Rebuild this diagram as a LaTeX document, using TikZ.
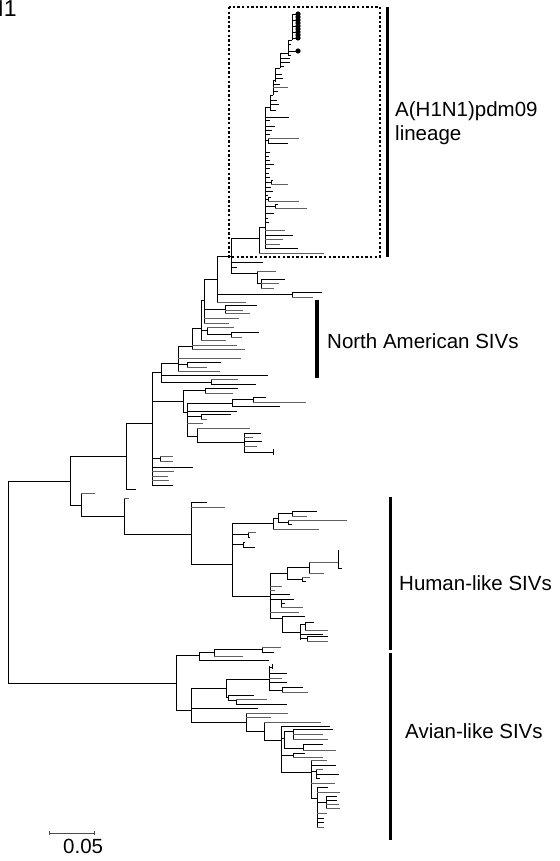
\documentclass[tikz,border=0pt]{standalone}
\usepackage{fontspec}
\setmainfont{Liberation Sans}
\begin{document}
\begin{tikzpicture}[x=1pt, y=-1pt, every node/.style={font=\fontsize{20.5}{24}\selectfont, inner sep=0pt},
  br/.style={line width=0.9pt, line cap=square, black},
  gbr/.style={line width=0.9pt, line cap=square, black!62},
  cladebar/.style={fill=black}]
  \useasboundingbox (0,0) rectangle (559,861);
  \draw[br] (8,481) -- (8,683) (8,481) -- (70,481) (8,683) -- (176,683);
  \draw[br] (70,456) -- (70,505) (70,456) -- (126,456) (70,505) -- (81,505);
  \draw[br] (126,423) -- (126,489) (126,423) -- (152,423) (126,489) -- (136,489);
  \draw[br] (152,372) -- (152,485) (152,372) -- (161,372) (152,401) -- (183,401) (152,458) -- (160,458) (152,467) -- (193,467) (152,485) -- (173,485);
  \draw[gbr] (152,471) -- (174,471) (152,476) -- (168,476) (152,480) -- (169,480);
  \draw[br] (160,456) -- (160,461);
  \draw[gbr] (160,456) -- (173,456) (160,461) -- (173,461);
  \draw[br] (161,363) -- (161,382) (161,363) -- (178,363) (161,375) -- (268,375) (161,382) -- (211,382) (211,379) -- (211,384) (211,384) -- (256,384);
  \draw[gbr] (211,379) -- (238,379);
  \draw[br] (178,346) -- (178,371) (178,346) -- (192,346) (178,364) -- (187,364) (187,362) -- (187,367) (187,362) -- (221,362);
  \draw[gbr] (178,358) -- (241,358) (187,367) -- (207,367) (178,371) -- (220,371);
  \draw[br] (192,328) -- (192,349) (192,328) -- (201,328);
  \draw[gbr] (192,345) -- (237,345) (192,349) -- (245,349);
  \draw[br] (201,300) -- (201,340) (201,300) -- (204,300) (201,330) -- (207,330) (207,327) -- (207,334) (207,334) -- (231,334) (231,332) -- (231,337) (231,332) -- (259,332);
  \draw[gbr] (207,327) -- (234,327) (231,337) -- (242,337) (201,340) -- (226,340);
  \draw[br] (204,279) -- (204,323) (204,279) -- (217,279) (204,309) -- (225,309) (225,305) -- (225,313) (225,305) -- (257,305);
  \draw[gbr] (225,310) -- (243,310) (225,313) -- (250,313) (204,318) -- (239,318) (204,323) -- (229,323);
  \draw[br] (217,256) -- (217,302) (217,256) -- (231,256) (217,294) -- (292,294) (292,292) -- (292,297) (292,292) -- (322,292);
  \draw[gbr] (292,297) -- (313,297) (217,302) -- (246,302);
  \draw[br] (231,238) -- (231,273) (231,238) -- (259,238) (231,262) -- (263,262) (231,267) -- (237,267) (231,273) -- (257,273) (257,271) -- (257,283) (257,283) -- (261,283) (261,279) -- (261,288) (261,279) -- (285,279);
  \draw[gbr] (257,271) -- (276,271) (261,283) -- (279,283) (261,288) -- (274,288);
  \draw[br] (259,227) -- (259,253) (259,227) -- (265,227);
  \draw[gbr] (259,253) -- (324,253);
  \draw[br] (265,107) -- (265,248) (265,107) -- (270,107) (265,117) -- (289,117) (265,120) -- (270,120) (265,126) -- (275,126) (265,130) -- (272,130) (265,134) -- (270,134) (265,140) -- (268,140) (268,138) -- (268,143) (268,143) -- (288,143) (265,152) -- (270,152) (265,156) -- (269,156) (265,160) -- (270,160) (265,164) -- (274,164) (265,168) -- (270,168) (265,173) -- (269,173) (265,177) -- (270,177) (265,182) -- (271,182) (271,180) -- (271,184) (271,180) -- (273,180) (265,187) -- (271,187) (265,191) -- (273,191) (265,195) -- (268,195) (265,199) -- (268,199) (268,197) -- (268,201) (268,197) -- (271,197) (265,206) -- (275,206) (275,204) -- (275,208) (275,204) -- (278,204) (265,213) -- (274,213) (265,218) -- (268,218) (265,222) -- (269,222) (265,235) -- (293,235) (265,248) -- (298,248);
  \draw[gbr] (268,138) -- (299,138) (271,184) -- (288,184) (268,201) -- (299,201) (275,208) -- (307,208) (265,230) -- (285,230) (265,239) -- (283,239) (265,244) -- (280,244);
  \draw[br] (270,95) -- (270,110) (270,95) -- (273,95) (270,100) -- (277,100) (270,104) -- (279,104) (270,110) -- (276,110);
  \draw[br] (273,80) -- (273,95) (273,80) -- (275,80) (273,84) -- (280,84) (273,91) -- (278,91);
  \draw[gbr] (273,87) -- (288,87);
  \draw[br] (275,68) -- (275,82) (275,68) -- (280,68) (275,74) -- (282,74) (275,78) -- (283,78);
  \draw[br] (280,53) -- (280,68) (280,53) -- (288,53) (280,58) -- (290,58) (280,62) -- (290,62) (280,66) -- (284,66);
  \draw[br] (288,40) -- (288,55) (288,40) -- (292,40) (288,44) -- (291,44) (288,51) -- (296,51) (288,55) -- (291,55);
  \draw[br] (292,14) -- (292,40) (292,14) -- (296,14) (292,20) -- (296,20) (292,26) -- (296,26) (292,32) -- (296,32) (292,38) -- (296,38);
  \fill (298,14) circle[radius=2.6pt] (298,17) circle[radius=2.6pt] (298,20) circle[radius=2.6pt] (298,23) circle[radius=2.6pt] (298,26) circle[radius=2.6pt] (298,29) circle[radius=2.6pt] (298,32) circle[radius=2.6pt] (298,35) circle[radius=2.6pt] (298,38) circle[radius=2.6pt] (298,51) circle[radius=2.6pt];
  \draw[br] (183,390) -- (183,412) (183,390) -- (205,390) (205,388) -- (205,393) (205,388) -- (238,388) (183,412) -- (187,412);
  \draw[gbr] (205,393) -- (233,393);
  \draw[br] (187,403) -- (187,436) (187,403) -- (232,403) (232,399) -- (232,406) (232,399) -- (253,399) (253,397) -- (253,402) (253,397) -- (266,397) (232,406) -- (280,406) (187,411) -- (237,411) (187,416) -- (201,416) (201,414) -- (201,419) (201,414) -- (231,414) (187,436) -- (197,436);
  \draw[gbr] (253,402) -- (306,402) (201,419) -- (207,419) (187,423) -- (203,423);
  \draw[br] (197,428) -- (197,442) (197,442) -- (244,442) (244,433) -- (244,452) (244,433) -- (261,433) (244,441) -- (262,441) (244,452) -- (273,452) (273,449) -- (273,455);
  \draw[gbr] (197,428) -- (250,428) (244,437) -- (253,437) (244,446) -- (257,446);
  \draw[br] (81,493) -- (81,516) (81,516) -- (124,516) (124,498) -- (124,534) (124,534) -- (191,534);
  \draw[gbr] (81,493) -- (95,493) (124,498) -- (129,498);
  \draw[br] (191,502) -- (191,564) (191,502) -- (207,502) (191,564) -- (232,564);
  \draw[gbr] (191,507) -- (225,507);
  \draw[br] (232,523) -- (232,596) (232,523) -- (273,523) (232,534) -- (248,534) (248,532) -- (248,537) (248,537) -- (250,537) (232,544) -- (243,544) (243,542) -- (243,547) (243,542) -- (245,542) (243,547) -- (255,547) (232,596) -- (270,596);
  \draw[gbr] (248,532) -- (256,532);
  \draw[br] (273,518) -- (273,529) (273,518) -- (278,518) (278,513) -- (278,522) (278,513) -- (292,513) (292,511) -- (292,516) (292,511) -- (317,511) (278,522) -- (288,522) (288,520) -- (288,524) (288,524) -- (292,524);
  \draw[gbr] (292,516) -- (307,516) (288,520) -- (347,520) (273,529) -- (319,529);
  \draw[br] (270,573) -- (270,618) (270,573) -- (287,573) (287,567) -- (287,579) (287,567) -- (309,567) (309,562) -- (309,573) (338,550) -- (338,568) (338,568) -- (342,568) (287,579) -- (302,579) (302,577) -- (302,581) (302,581) -- (306,581) (270,594) -- (290,594) (270,599) -- (281,599) (281,599) -- (281,607) (281,599) -- (294,599) (281,603) -- (285,603) (270,618) -- (282,618) (282,616) -- (282,632) (282,616) -- (305,616) (282,632) -- (300,632);
  \draw[gbr] (309,562) -- (338,562) (309,573) -- (324,573) (302,577) -- (310,577) (270,586) -- (282,586) (270,590) -- (275,590) (281,607) -- (303,607) (270,612) -- (299,612);
  \draw[br] (300,624) -- (300,640) (300,624) -- (305,624) (305,622) -- (305,630) (305,622) -- (314,622) (300,634) -- (323,634) (300,638) -- (307,638) (307,636) -- (307,641) (307,636) -- (328,636);
  \draw[gbr] (305,630) -- (328,630) (307,641) -- (328,641);
  \draw[br] (176,655) -- (176,710) (176,655) -- (199,655) (176,710) -- (191,710);
  \draw[br] (199,652) -- (199,660) (199,652) -- (214,652) (214,649) -- (214,656) (214,649) -- (262,649) (262,647) -- (262,652) (262,652) -- (274,652) (199,660) -- (269,660);
  \draw[gbr] (262,647) -- (281,647) (214,656) -- (243,656);
  \draw[br] (191,688) -- (191,722) (191,688) -- (226,688) (191,708) -- (258,708) (191,722) -- (246,722);
  \draw[br] (226,679) -- (226,697) (226,679) -- (269,679) (226,697) -- (228,697) (228,695) -- (228,700) (228,695) -- (254,695) (228,700) -- (236,700) (236,699) -- (236,704) (236,704) -- (287,704);
  \draw[gbr] (236,699) -- (267,699);
  \draw[br] (269,666) -- (269,690) (272,664) -- (272,669) (269,667) -- (272,667) (269,673) -- (287,673) (269,682) -- (287,682) (269,690) -- (282,690) (282,687) -- (282,692) (282,687) -- (303,687);
  \draw[gbr] (269,678) -- (282,678) (282,692) -- (308,692);
  \draw[br] (246,713) -- (246,731) (246,731) -- (264,731) (264,722) -- (264,740) (264,740) -- (281,740) (281,726) -- (281,772) (281,726) -- (330,726) (281,738) -- (284,738) (284,731) -- (284,748) (284,731) -- (293,731) (293,729) -- (293,739) (293,729) -- (333,729) (284,748) -- (303,748) (303,744) -- (303,750) (303,744) -- (323,744) (281,755) -- (293,755) (293,753) -- (293,757) (293,753) -- (305,753) (281,772) -- (311,772);
  \draw[gbr] (246,713) -- (288,713) (246,717) -- (271,717) (264,722) -- (321,722) (293,734) -- (323,734) (293,739) -- (328,739) (303,750) -- (336,750) (293,757) -- (323,757);
  \draw[br] (311,760) -- (311,798) (311,765) -- (336,765) (311,771) -- (316,771) (316,769) -- (316,778) (316,774) -- (339,774) (316,778) -- (320,778) (311,798) -- (317,798);
  \draw[gbr] (311,760) -- (327,760) (316,769) -- (323,769) (311,783) -- (335,783);
  \draw[br] (317,787) -- (317,827) (317,787) -- (328,787) (317,802) -- (326,802) (326,796) -- (326,808) (326,796) -- (337,796) (326,800) -- (337,800) (317,818) -- (324,818) (317,822) -- (324,822);
  \draw[gbr] (317,792) -- (340,792) (326,804) -- (339,804) (326,808) -- (340,808) (317,813) -- (327,813) (317,827) -- (324,827);
  \draw[line width=2.4pt, dash pattern=on 2.4pt off 2.2pt] (229,7) rectangle (380,257);
  \fill[cladebar] (385.5,7) rectangle (389,257);
  \fill[cladebar] (315,300) rectangle (319,378);
  \fill[cladebar] (388.5,497) rectangle (392,650);
  \fill[cladebar] (388.5,653) rectangle (392,840);
  \node[anchor=base west] (pdmname) at (395,117) {A(H1N1)pdm09};
  \node[anchor=base west] (pdmline) at (395,141) {lineage};
  \node[anchor=base west] (nasiv) at (327,348) {North American SIVs};
  \node[anchor=base west] (husiv) at (399,590) {Human-like SIVs};
  \node[anchor=base west] (avsiv) at (405,738) {Avian-like SIVs};
  \draw[line width=0.9pt, black!70] (49,833) -- (94,833) (49,831) -- (49,835) (94,831) -- (94,835);
  \node[anchor=base west] (scalelbl) at (63,853) {0.05};
  \node[anchor=base west, font=\fontsize{23}{26}\selectfont] (panel) at (-13,17) {H1};
\end{tikzpicture}
\end{document}
